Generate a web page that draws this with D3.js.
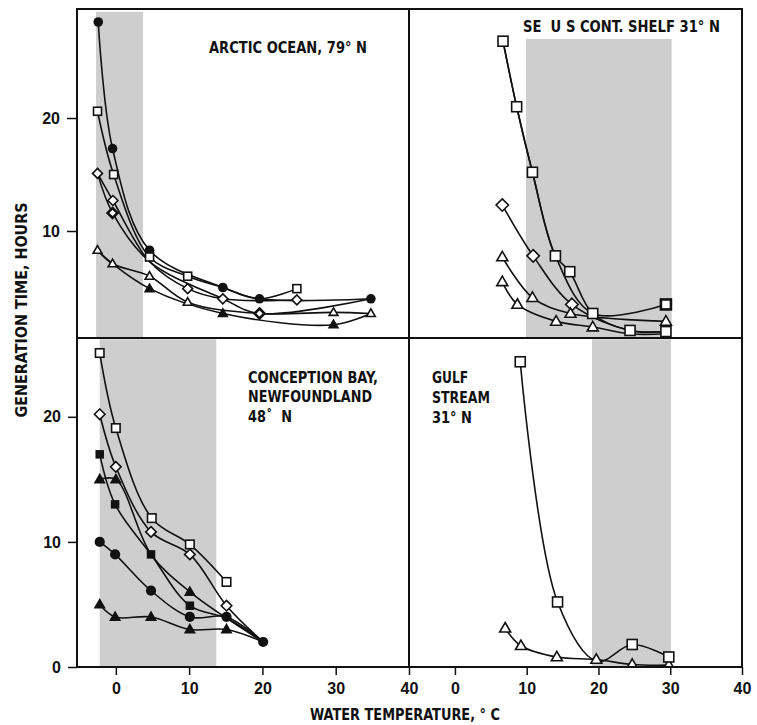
<!DOCTYPE html>
<html>
<head>
<meta charset="utf-8">
<script src="https://cdn.jsdelivr.net/npm/d3@7"></script>
<style>
  body { margin: 0; background: #fff; }
  svg { display: block; }
  text {
    font-family: "Liberation Sans Narrow", "DejaVu Sans Condensed", "Liberation Sans", sans-serif;
    font-weight: bold;
    fill: #111;
  }
  .tick text { font-family: "Liberation Sans", "DejaVu Sans", sans-serif; font-size: 16px; }
</style>
</head>
<body>
<svg id="chart" width="757" height="725"></svg>
<script>
// *******************
// values: [water temperature °C, generation time h]
// *******************

const arcticSeries = [
  [[-2.4, 28.5], [-0.45, 17.3], [4.6, 8.3], [14.6, 5.0], [19.6, 4.0], [34.8, 4.0]],
  [[-2.5, 20.6], [-0.3, 15.0], [4.6, 7.7], [9.8, 6.0], [14.6, 5.0], [19.6, 4.0], [24.7, 4.9]],
  [[-2.5, 15.1], [-0.4, 12.7], [4.6, 7.3], [9.8, 4.9], [14.6, 4.0], [24.7, 3.9]],
  [[-2.5, 15.1], [-0.45, 11.6], [4.6, 7.3], [14.6, 4.0], [19.6, 2.7], [34.8, 4.0]],
  [[-2.5, 8.3], [-0.45, 7.1], [4.6, 6.0], [9.8, 3.7], [19.6, 2.7], [29.7, 2.8], [34.8, 2.7]],
  [[-2.5, 8.3], [-0.45, 7.1], [4.6, 4.9], [14.6, 2.7], [29.7, 1.7], [34.8, 2.7]]
];
const arcticMarkers = ["filledCircle", "square", "diamond", "diamondBold", "triangle", "filledTriangle"];

const shelfSeries = [
  [[6.7, 26.8], [8.6, 21.0], [10.8, 15.2], [14.0, 7.8], [16.0, 6.4], [19.2, 2.7], [24.4, 1.2], [29.4, 1.1]],
  [[6.7, 26.8], [8.6, 21.0], [10.8, 15.2], [14.0, 7.8], [19.2, 2.7], [29.4, 3.5]],
  [[6.6, 12.3], [10.9, 7.8], [16.3, 3.5], [24.4, 1.2], [29.4, 1.1]],
  [[6.6, 7.7], [10.8, 4.1], [16.1, 2.7], [29.4, 2.0]],
  [[6.6, 5.5], [8.7, 3.5], [14.1, 2.0], [19.2, 1.5], [24.4, 0.9], [29.4, 0.9]]
];
const shelfMarkers = ["square", "squareBold", "diamond", "triangle", "triangle"];

const conceptionSeries = [
  [[-2.2, 25.1], [0, 19.1], [4.9, 11.9], [10.1, 9.8], [15.1, 6.8]],
  [[-2.2, 10.0], [-0.1, 9.0], [4.8, 6.1], [10.1, 4.0], [15.1, 4.0], [20.1, 2.0]],
  [[-2.2, 17.0], [-0.1, 13.0], [4.8, 9.0], [10.1, 4.9], [15.1, 3.9], [20.1, 2.0]],
  [[-2.2, 20.2], [0, 16.0], [4.8, 10.8], [10.1, 9.0], [15.1, 4.9], [20.1, 2.0]],
  [[-2.2, 15.0], [0, 15.0], [4.8, 9.0], [10.1, 6.0], [15.1, 3.9], [20.1, 2.0]],
  [[-2.2, 5.0], [-0.1, 4.0], [4.8, 4.0], [10.1, 3.0], [15.1, 3.0], [20.1, 2.0]]
];
const conceptionMarkers = ["square", "filledCircle", "filledSquare", "diamond", "filledTriangle", "filledTriangle"];

const gulfSeries = [
  [[7.0, 3.1], [9.2, 1.7], [14.2, 0.8], [19.7, 0.6], [24.7, 0.2], [29.8, 0.15]],
  [[9.1, 24.4], [14.3, 5.2], [19.8, 0.45], [24.7, 1.8], [29.8, 0.8]]
];
const gulfMarkers = ["triangle", "square"];

// shaded temperature ranges [from, to, top of band]
const arcticShade = [-2.7, 3.7, 29.4];
const shelfShade = [9.9, 30.2, 27.0];
const conceptionShade = [-2.2, 13.7, 26.2];
const gulfShade = [19.1, 30.1, 26.2];

const yTicksTop = [10, 20];
const yTicksBottom = [0, 10, 20];
const xTicks = [0, 10, 20, 30, 40];

// *******************
// layout
// *******************
const FRAME = { LEFT: 77, RIGHT: 742, TOP: 9, BOTTOM: 667, MIDX: 409, MIDY: 338 };

const svg = d3.select("#chart");

const xLeft = d3.scaleLinear().domain([-5.3, 40]).range([FRAME.LEFT, FRAME.MIDX]);
const xRight = d3.scaleLinear().domain([-6.4, 40]).range([FRAME.MIDX, FRAME.RIGHT]);
const yTop = d3.scaleLinear().domain([0.53, 29.65]).range([FRAME.MIDY, FRAME.TOP]);
const yBottom = d3.scaleLinear().domain([0, 26.3]).range([FRAME.BOTTOM, FRAME.MIDY]);

const defs = svg.append("defs");

const panels = [
  { id: "arctic", x: xLeft, y: yTop, series: arcticSeries, markers: arcticMarkers, shade: arcticShade, size: 8 },
  { id: "shelf", x: xRight, y: yTop, series: shelfSeries, markers: shelfMarkers, shade: shelfShade, size: 10 },
  { id: "conception", x: xLeft, y: yBottom, series: conceptionSeries, markers: conceptionMarkers, shade: conceptionShade, size: 8.5 },
  { id: "gulf", x: xRight, y: yBottom, series: gulfSeries, markers: gulfMarkers, shade: gulfShade, size: 10 }
];

// draw one marker glyph centred on (cx, cy)
function drawMarker(g, type, cx, cy, s) {
  const m = g.append("g").attr("transform", `translate(${cx},${cy})`);
  const sw = 1.6;
  if (type === "square" || type === "squareBold") {
    m.append("rect")
      .attr("x", -s / 2).attr("y", -s / 2).attr("width", s).attr("height", s)
      .attr("fill", "#fff").attr("stroke", "#111")
      .attr("stroke-width", type === "squareBold" ? 2.6 : sw);
  } else if (type === "filledSquare") {
    m.append("rect")
      .attr("x", -s / 2).attr("y", -s / 2).attr("width", s).attr("height", s)
      .attr("fill", "#111");
  } else if (type === "diamond" || type === "diamondBold") {
    const d = s * 0.62;
    m.append("path")
      .attr("d", `M0,${-d}L${d},0L0,${d}L${-d},0Z`)
      .attr("fill", "#fff").attr("stroke", "#111")
      .attr("stroke-width", type === "diamondBold" ? 2.6 : sw);
  } else if (type === "triangle" || type === "filledTriangle") {
    const h = s * 0.95;
    m.append("path")
      .attr("d", `M0,${-h * 0.6}L${s * 0.55},${h * 0.4}L${-s * 0.55},${h * 0.4}Z`)
      .attr("fill", type === "filledTriangle" ? "#111" : "#fff")
      .attr("stroke", "#111").attr("stroke-width", sw);
  } else if (type === "filledCircle") {
    m.append("circle").attr("r", s * 0.6).attr("fill", "#111");
  } else {
    m.append("circle").attr("r", s * 0.5).attr("fill", "#fff").attr("stroke", "#111").attr("stroke-width", 2.4);
  }
}

panels.forEach((p) => {
  const [x0, x1] = p.x.range();
  const [y0, y1] = p.y.range();
  const clipId = `clip-${p.id}`;
  defs.append("clipPath").attr("id", clipId)
    .append("rect")
    .attr("x", x0).attr("y", y1).attr("width", x1 - x0).attr("height", y0 - y1);

  const g = svg.append("g").attr("clip-path", `url(#${clipId})`);

  // shaded in-situ temperature range
  g.append("rect")
    .attr("x", p.x(p.shade[0]))
    .attr("width", p.x(p.shade[1]) - p.x(p.shade[0]))
    .attr("y", p.y(p.shade[2]))
    .attr("height", y0 - p.y(p.shade[2]))
    .attr("fill", "#cecece");

  const line = d3.line()
    .x((d) => p.x(d[0]))
    .y((d) => p.y(d[1]))
    .curve(d3.curveCatmullRom.alpha(0.5));

  p.series.forEach((pts) => {
    g.append("path")
      .attr("d", line(pts))
      .attr("fill", "none")
      .attr("stroke", "#111")
      .attr("stroke-width", 1.6);
  });

  // a point that coincides with one already drawn only gets one glyph
  const placed = [];
  p.series.forEach((pts, i) => {
    pts.forEach((d) => {
      const cx = p.x(d[0]);
      const cy = p.y(d[1]);
      if (placed.some((q) => Math.hypot(q[0] - cx, q[1] - cy) < 5)) return;
      placed.push([cx, cy]);
      drawMarker(g, p.markers[i], cx, cy, p.size);
    });
  });
});

// frame and dividers
svg.append("rect")
  .attr("x", FRAME.LEFT).attr("y", FRAME.TOP)
  .attr("width", FRAME.RIGHT - FRAME.LEFT).attr("height", FRAME.BOTTOM - FRAME.TOP)
  .attr("fill", "none").attr("stroke", "#111").attr("stroke-width", 2);
svg.append("line")
  .attr("x1", FRAME.MIDX).attr("x2", FRAME.MIDX).attr("y1", FRAME.TOP).attr("y2", FRAME.BOTTOM)
  .attr("stroke", "#111").attr("stroke-width", 2);
svg.append("line")
  .attr("x1", FRAME.LEFT).attr("x2", FRAME.RIGHT).attr("y1", FRAME.MIDY).attr("y2", FRAME.MIDY)
  .attr("stroke", "#111").attr("stroke-width", 2);

// axes
function styleAxis(sel) {
  sel.select(".domain").remove();
  sel.selectAll(".tick line").attr("stroke", "#111").attr("stroke-width", 1.5);
  sel.selectAll(".tick text").attr("fill", "#111");
}

svg.append("g")
  .attr("transform", `translate(${FRAME.LEFT},0)`)
  .call(d3.axisLeft(yTop).tickValues(yTicksTop).tickSize(10).tickPadding(7))
  .call(styleAxis);

svg.append("g")
  .attr("transform", `translate(${FRAME.LEFT},0)`)
  .call(d3.axisLeft(yBottom).tickValues(yTicksBottom).tickSize(9).tickPadding(7))
  .call(styleAxis);

svg.append("g")
  .attr("transform", `translate(0,${FRAME.BOTTOM})`)
  .call(d3.axisBottom(xLeft).tickValues(xTicks).tickSize(8).tickPadding(8))
  .call(styleAxis);

svg.append("g")
  .attr("transform", `translate(0,${FRAME.BOTTOM})`)
  .call(d3.axisBottom(xRight).tickValues(xTicks).tickSize(8).tickPadding(8))
  .call(styleAxis);

// panel titles: [text, x, baseline, width]
const titleLines = [
  ["ARCTIC OCEAN, 79° N", 209, 53, 158],
  ["SE  U S CONT. SHELF 31° N", 523, 32, 197],
  ["CONCEPTION BAY,", 248, 383, 130],
  ["NEWFOUNDLAND", 248, 402, 124],
  ["48˚  N", 248, 422, 44],
  ["GULF", 432, 383, 36],
  ["STREAM", 432, 403, 58],
  ["31° N", 432, 423, 40]
];

titleLines.forEach(([t, x, y, w]) => {
  svg.append("text")
    .attr("x", x).attr("y", y)
    .style("font-size", "15px")
    .style("white-space", "pre")
    .attr("textLength", w)
    .attr("lengthAdjust", "spacingAndGlyphs")
    .text(t);
});

// axis titles
svg.append("text")
  .attr("x", 405).attr("y", 720)
  .attr("text-anchor", "middle")
  .style("font-size", "15px")
  .attr("textLength", 190)
  .attr("lengthAdjust", "spacingAndGlyphs")
  .text("WATER TEMPERATURE, ° C");

svg.append("text")
  .attr("transform", "translate(27,310) rotate(-90)")
  .attr("text-anchor", "middle")
  .style("font-size", "15px")
  .attr("textLength", 215)
  .attr("lengthAdjust", "spacingAndGlyphs")
  .text("GENERATION TIME, HOURS");
</script>
</body>
</html>
